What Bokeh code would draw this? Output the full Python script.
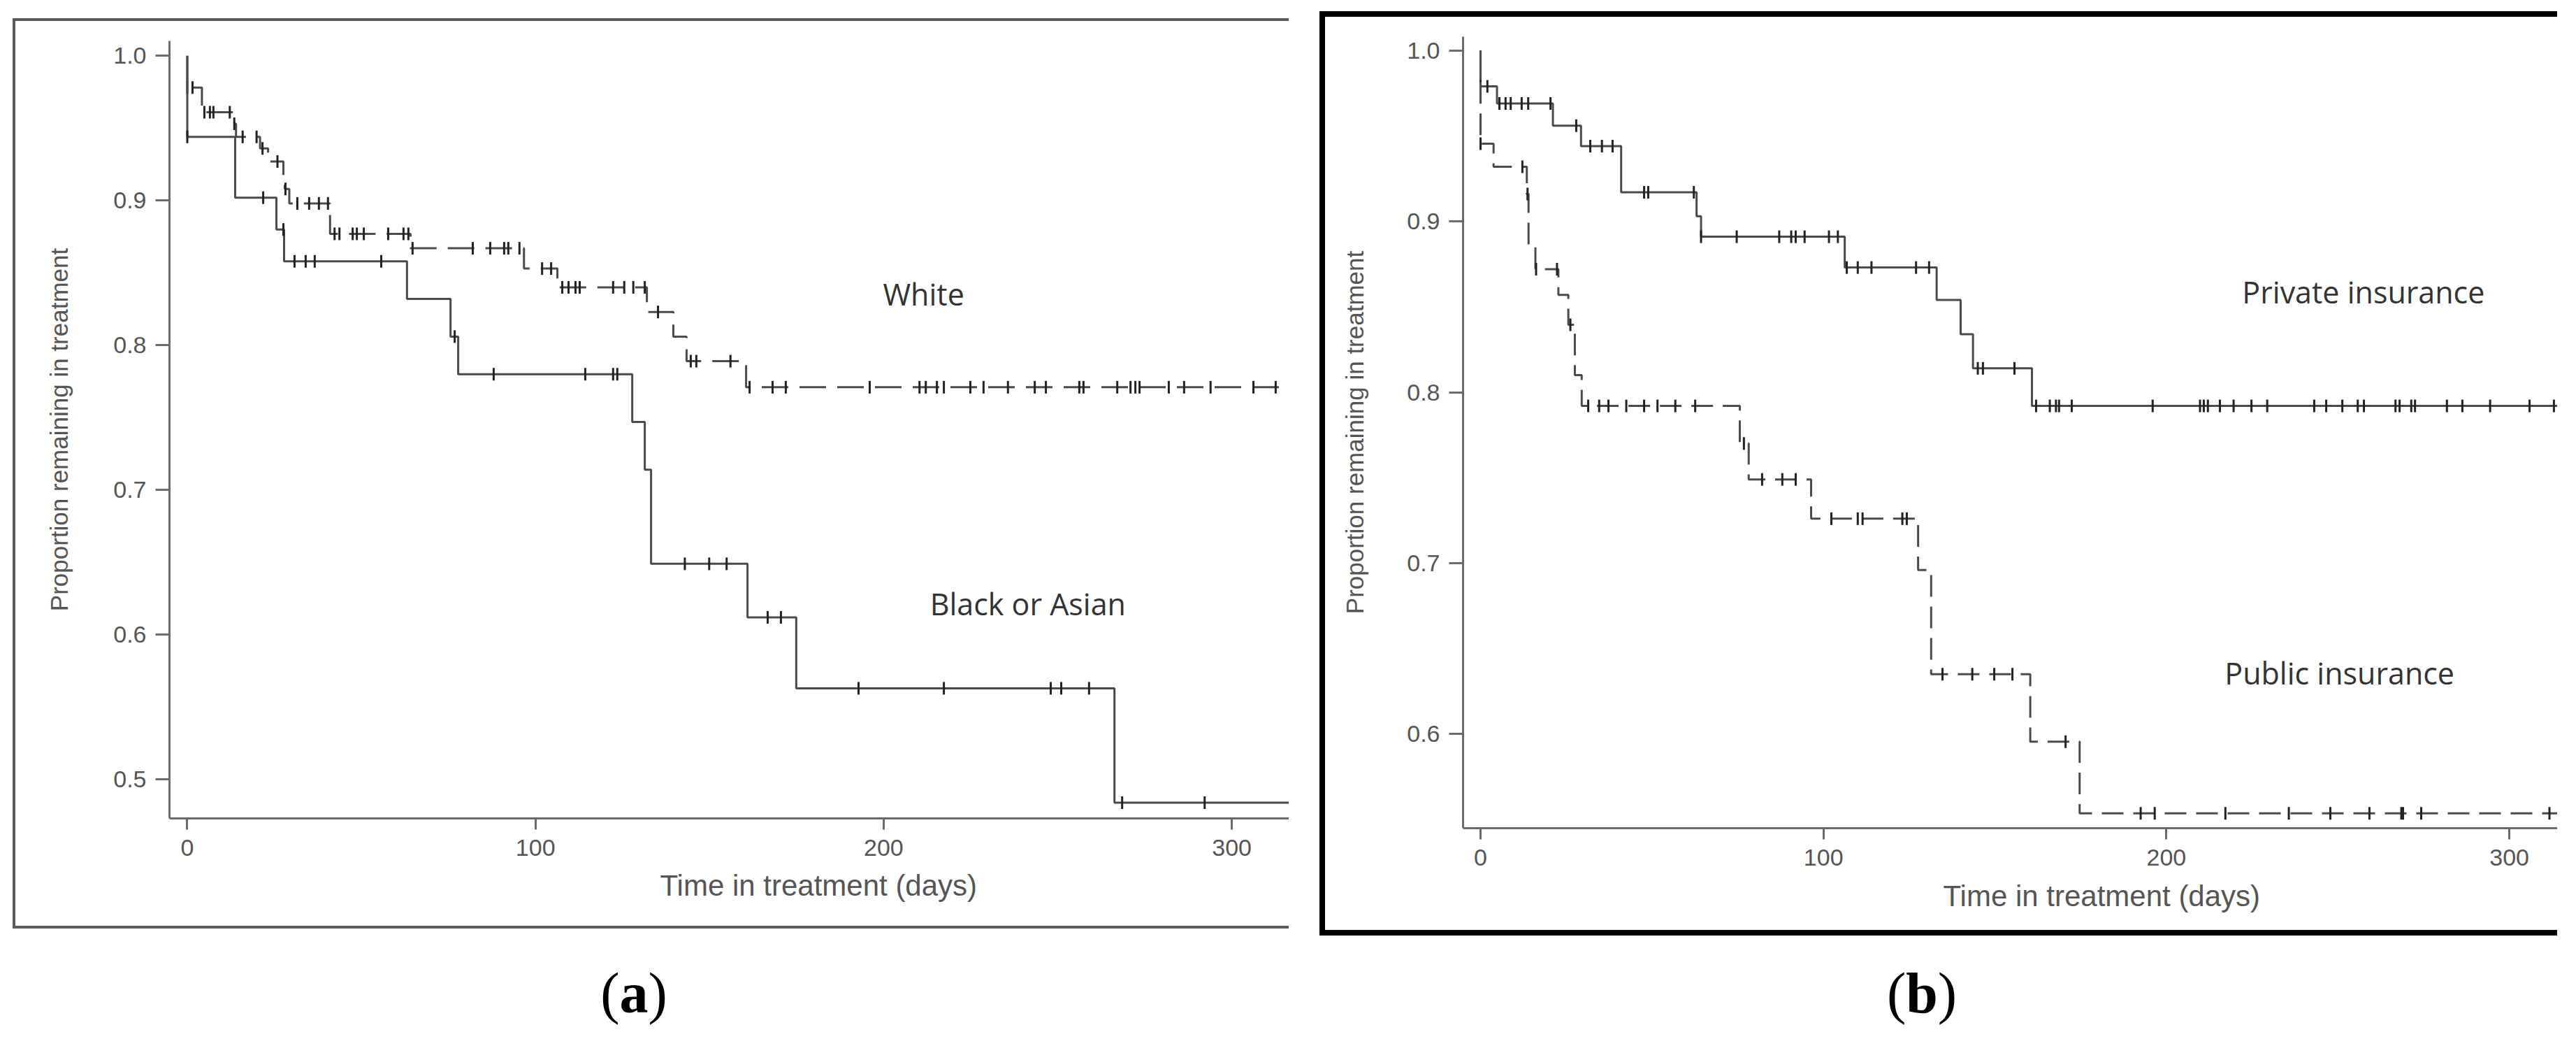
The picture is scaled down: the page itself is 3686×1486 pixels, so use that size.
import numpy as np
from bokeh.plotting import figure
from bokeh.models import Range1d, FixedTicker, PrintfTickFormatter, Label, Title, Spacer, Div
from bokeh.layouts import row, column
from bokeh.embed import file_html
from bokeh.resources import INLINE

# ---------------- data ----------------
x_ticks = [0, 100, 200, 300]
y_ticks_a = [0.5, 0.6, 0.7, 0.8, 0.9, 1.0]
y_ticks_b = [0.6, 0.7, 0.8, 0.9, 1.0]
follow_up_end = 330  # days; curves run on past the right edge

# (a) White  (dashed)
white_time = [0, 0, 4.2, 13.5, 14.0, 20.9, 23.2, 27.6, 28.0, 29.3, 41.0, 64.1, 96.7, 106.3, 132.0, 139.6, 143.4, 160.5]
white_surv = [1.0, 0.978, 0.961, 0.953, 0.944, 0.936, 0.927, 0.915, 0.908, 0.898, 0.877, 0.867, 0.853, 0.840, 0.823, 0.806, 0.789, 0.771]
white_censor = [0, 1.5, 4.9, 6.5, 7.5, 12.2, 13.5, 15.9, 19.9, 21.6, 25.9, 28.2, 31.6, 35.0, 37.8, 40.4,
                42.3, 43.7, 47.5, 48.7, 50.7, 57.7, 62.1, 63.5, 64.7, 82.0, 87.0, 91.0, 92.2, 95.4, 101.9,
                104.5, 107.7, 109.5, 111.5, 112.7, 122.3, 125.5, 128.1, 131.4, 135.2, 144.6, 146.2, 156.0,
                161.5, 168.1, 171.9, 196.0, 210.3, 212.1, 215.3, 217.3, 224.9, 228.7, 235.7, 243.4, 246.6,
                256.2, 257.4, 267.1, 270.9, 272.3, 273.5, 281.9, 286.3, 293.9, 306.2, 312.6]

# (a) Black or Asian  (solid)
black_time = [0, 0, 13.75, 25.6, 27.8, 63.1, 75.6, 77.8, 127.8, 131.4, 133.2, 160.9, 174.9, 266.3]
black_surv = [1.0, 0.944, 0.902, 0.880, 0.858, 0.832, 0.806, 0.780, 0.747, 0.714, 0.649, 0.612, 0.563, 0.484]
black_censor = [0, 21.8, 27.6, 30.8, 34.0, 36.6, 55.7, 76.8, 88.0, 114.3, 122.3, 123.5, 142.9, 149.9,
                154.9, 166.7, 170.5, 192.8, 217.3, 248.0, 251.0, 259.0, 268.5, 292.2]

# (b) Private insurance  (solid)
private_time = [0, 0, 4.8, 21.1, 29.3, 41.0, 63.0, 64.3, 106.2, 133.0, 140.0, 143.6, 160.8]
private_surv = [1.0, 0.979, 0.969, 0.956, 0.944, 0.917, 0.903, 0.891, 0.873, 0.854, 0.834, 0.814, 0.792]
private_censor = [0, 2.0, 5.5, 7.3, 8.8, 12.0, 13.9, 20.4, 27.9, 32.0, 35.4, 38.5, 47.7, 48.9, 62.2, 64.3,
                  74.7, 87.1, 90.6, 91.9, 94.5, 101.6, 104.2, 106.8, 110.0, 114.0, 127.0, 130.8, 145.0,
                  146.5, 155.7, 162.0, 166.0, 167.8, 168.7, 172.4, 196.0, 209.8, 210.9, 212.1, 215.6,
                  219.6, 224.8, 229.4, 243.1, 246.6, 251.3, 255.8, 257.6, 266.8, 268.0, 271.4, 272.5,
                  281.8, 286.3, 294.4, 305.9, 313.0]

# (b) Public insurance  (dashed)
public_time = [0, 0, 3.8, 13.5, 14.0, 16.0, 22.7, 25.6, 27.5, 29.5, 75.6, 78.2, 96.4, 127.6, 131.4, 160.3, 174.7]
public_surv = [1.0, 0.9455, 0.932, 0.916, 0.886, 0.872, 0.857, 0.8395, 0.81, 0.792, 0.770, 0.749, 0.726,
               0.696, 0.635, 0.5955, 0.5536]
public_censor = [0, 12.2, 13.7, 16.2, 22.3, 26.2, 31.4, 34.6, 37.3, 42.5, 47.7, 51.6, 56.8, 62.6, 76.8,
                 82.1, 88.0, 91.9, 102.3, 110.0, 111.4, 123.0, 124.3, 134.7, 143.4, 149.8, 155.1, 170.6,
                 192.5, 196.6, 217.2, 235.7, 247.8, 259.2, 268.5, 269.0, 274.3, 311.7]

# ---------------- helpers ----------------
LINE = "#4a4a4a"
AXIS = "#6b6b6b"
TXT = "#555555"


def steps(t, s):
    return list(t) + [follow_up_end], list(s) + [s[-1]]


def surv_at(t, s, c):
    idx = np.searchsorted(np.array(t), np.array(c), side="right") - 1
    return np.array(s)[idx]


def curve(p, t, s, cens, dash):
    xs, ys = steps(t, s)
    p.step(xs, ys, mode="after", line_color=LINE, line_width=3, line_dash=dash)
    p.scatter(cens, surv_at(t, s, cens), marker="dash", angle=np.pi / 2, size=18,
              line_color="#222222", line_width=3)


def panel(spec):
    p = figure(width=spec["W"], height=spec["H"],
               x_range=Range1d(*spec["xr"]), y_range=Range1d(*spec["yr"]),
               min_border_left=spec["mbl"], min_border_right=0,
               min_border_top=spec["mbt"], min_border_bottom=spec["mbb"],
               output_backend="svg", toolbar_location=None, tools="",
               background_fill_color="white", border_fill_color="white",
               outline_line_color=None, styles={"box-shadow": spec["shadow"]})
    p.grid.visible = False
    for ax in (p.xaxis[0], p.yaxis[0]):
        ax.axis_line_color = AXIS
        ax.axis_line_width = 3
        ax.major_tick_line_color = AXIS
        ax.major_tick_line_width = 3
        ax.minor_tick_line_color = None
        ax.major_tick_in = 0
        ax.major_label_text_font = "Liberation Sans"
        ax.major_label_text_font_size = "34px"
        ax.major_label_text_color = TXT
    p.xaxis.ticker = FixedTicker(ticks=x_ticks)
    p.xaxis.major_tick_out = 16
    p.xaxis.major_label_standoff = 14
    p.yaxis.ticker = FixedTicker(ticks=spec["yticks"])
    p.yaxis.formatter = PrintfTickFormatter(format="%.1f")
    p.yaxis.major_tick_out = 20
    p.yaxis.major_label_standoff = 13
    p.yaxis.axis_label = "Proportion remaining in treatment"
    p.yaxis.axis_label_text_font = "Liberation Sans"
    p.yaxis.axis_label_text_font_size = "35px"
    p.yaxis.axis_label_text_font_style = "normal"
    p.yaxis.axis_label_text_color = TXT
    p.yaxis.axis_label_standoff = spec["ylab_standoff"]
    p.add_layout(Title(text="Time in treatment (days)", align="left", offset=spec["t_offset"],
                       standoff=spec["t_standoff"], text_font="Liberation Sans",
                       text_font_size="42px", text_font_style="normal", text_color=TXT), "below")
    for name, t, s, c, dash in spec["curves"]:
        curve(p, t, s, c, dash)
    for text, x, y in spec["labels"]:
        p.add_layout(Label(x=x, y=y, text=text, text_font="Open Sans", text_font_size="43px",
                           text_color="#333333", text_align="left", text_baseline="middle"))
    return p


def shadow(w, c):
    return (f"-{w}px 0 0 0 {c}, 0 -{w}px 0 0 {c}, 0 {w}px 0 0 {c}, "
            f"-{w}px -{w}px 0 0 {c}, -{w}px {w}px 0 0 {c}")


spec_a = dict(W=1822, H=1294, mbl=220, mbt=28, mbb=154,
              xr=(-5.118, 316.44), yr=(0.47309, 1.01029), yticks=y_ticks_a,
              ylab_standoff=55, t_offset=702, t_standoff=29, shadow=shadow(4, "#5a5a5a"),
              curves=[("White", white_time, white_surv, white_censor, "38 16"),
                      ("Black or Asian", black_time, black_surv, black_censor, "solid")],
              labels=[("White", 199.8, 0.8354), ("Black or Asian", 213.3, 0.6214)])

spec_b = dict(W=1763, H=1306, mbl=197, mbt=28, mbb=146,
              xr=(-5.095, 314.04), yr=(0.54489, 1.00806), yticks=y_ticks_b,
              ylab_standoff=52, t_offset=687, t_standoff=31, shadow=shadow(8, "#000000"),
              curves=[("Private insurance", private_time, private_surv, private_censor, "solid"),
                      ("Public insurance", public_time, public_surv, public_censor, "31 14")],
              labels=[("Private insurance", 222.1, 0.8587), ("Public insurance", 217.0, 0.6357)])

pa = panel(spec_a)
pb = panel(spec_b)

cap_style = {"font-family": "Liberation Serif", "font-size": "82px", "line-height": "80px",
             "text-align": "center", "color": "#000000"}
cap_a = Div(text="(<b>a</b>)", width=200, height=80, margin=0, styles=cap_style)
cap_b = Div(text="(<b>b</b>)", width=200, height=80, margin=0, styles=cap_style)

col_a = column(Spacer(width=10, height=30),
               row(Spacer(width=22, height=10), pa),
               Spacer(width=10, height=57),
               row(Spacer(width=807, height=10), cap_a))
col_b = column(Spacer(width=10, height=24),
               row(Spacer(width=52, height=10), pb),
               Spacer(width=10, height=51),
               row(Spacer(width=806, height=10), cap_b))
layout = row(col_a, col_b)

open("out.html", "w").write(file_html(layout, INLINE))
